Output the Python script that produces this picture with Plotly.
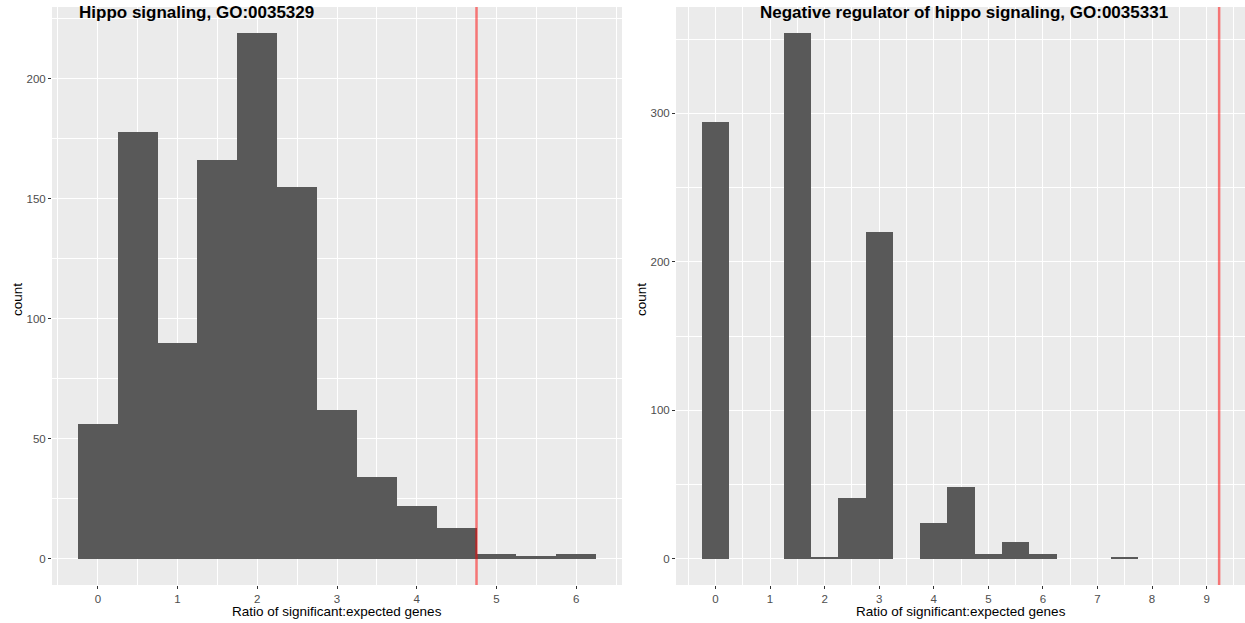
import plotly.graph_objects as go

W, H = 1245, 623

# Left histogram: Hippo signaling, GO:0035329
left_bins = [0.0, 0.5, 1.0, 1.5, 2.0, 2.5, 3.0, 3.5, 4.0, 4.5, 5.0, 5.5, 6.0]
left_counts = [56, 178, 90, 166, 219, 155, 62, 34, 22, 13, 2, 1, 2]
left_vline = 4.75
left_title = "Hippo signaling, GO:0035329"

# Right histogram: Negative regulator of hippo signaling, GO:0035331
right_bins = [0.0, 0.5, 1.0, 1.5, 2.0, 2.5, 3.0, 3.5, 4.0, 4.5, 5.0, 5.5, 6.0, 6.5, 7.0, 7.5]
right_counts = [294, 0, 0, 354, 1, 41, 220, 0, 24, 48, 3, 11, 3, 0, 0, 1]
right_vline = 9.23
right_title = "Negative regulator of hippo signaling, GO:0035331"

x_label = "Ratio of significant:expected genes"
y_label = "count"
bin_width = 0.5

FONT = "Liberation Sans, Arial, sans-serif"
BAR = "#595959"
PANEL = "#EBEBEB"

def px_x(p):
    return p / W

def px_y(p):
    return 1 - p / H

fig = go.Figure()

fig.add_trace(go.Bar(x=left_bins, y=left_counts, width=bin_width,
                     marker=dict(color=BAR, line=dict(width=0)),
                     xaxis="x", yaxis="y", showlegend=False))
fig.add_trace(go.Bar(x=right_bins, y=right_counts, width=bin_width,
                     marker=dict(color=BAR, line=dict(width=0)),
                     xaxis="x2", yaxis="y2", showlegend=False))

def span(lo, hi, extra=()):
    vals = [lo, hi] + list(extra)
    a, b = min(vals), max(vals)
    e = (b - a) * 0.05
    return [a - e, b + e]

lx = span(min(left_bins) - bin_width / 2, max(left_bins) + bin_width / 2, [left_vline])
ly = span(0, max(left_counts))
rx = span(min(right_bins) - bin_width / 2, max(right_bins) + bin_width / 2, [right_vline])
ry = span(0, max(right_counts))

ydom = [px_y(585), px_y(7)]
tickfont = dict(family=FONT, size=11.5, color="#4D4D4D")

common = dict(showgrid=True, gridcolor="white", gridwidth=1.1, zeroline=False,
              ticks="outside", ticklen=3, tickwidth=1, tickcolor="#333333",
              tickfont=tickfont, showline=False, fixedrange=True)

fig.update_layout(
    width=W, height=H,
    margin=dict(l=0, r=0, t=0, b=0),
    paper_bgcolor="white",
    plot_bgcolor=PANEL,
    bargap=0,
    font=dict(family=FONT),
    xaxis=dict(domain=[px_x(52), px_x(622)], range=lx, anchor="y",
               tickmode="array", tickvals=[0, 1, 2, 3, 4, 5, 6],
               minor=dict(showgrid=True, gridcolor="white", gridwidth=0.5, dtick=0.5, tick0=0.5),
               **common),
    yaxis=dict(domain=ydom, range=ly, anchor="x",
               tickmode="array", tickvals=[0, 50, 100, 150, 200],
               minor=dict(showgrid=True, gridcolor="white", gridwidth=0.5, dtick=25, tick0=25),
               **common),
    xaxis2=dict(domain=[px_x(676), 1.0], range=rx, anchor="y2",
                tickmode="array", tickvals=list(range(10)),
                minor=dict(showgrid=True, gridcolor="white", gridwidth=0.5, dtick=0.5, tick0=0.5),
                **common),
    yaxis2=dict(domain=ydom, range=ry, anchor="x2",
                tickmode="array", tickvals=[0, 100, 200, 300],
                minor=dict(showgrid=True, gridcolor="white", gridwidth=0.5, dtick=50, tick0=50),
                **common),
)

fig.add_shape(type="line", xref="x", yref="paper", x0=left_vline, x1=left_vline,
              y0=ydom[0], y1=ydom[1], line=dict(color="rgba(255,0,0,0.5)", width=2.5))
fig.add_shape(type="line", xref="x2", yref="paper", x0=right_vline, x1=right_vline,
              y0=ydom[0], y1=ydom[1], line=dict(color="rgba(255,0,0,0.5)", width=2.5))

title_font = dict(family=FONT, size=17, color="black")
label_font = dict(family=FONT, size=13.5, color="black")

fig.add_annotation(text=f"<b>{left_title}</b>", xref="paper", yref="paper",
                   x=px_x(77), y=px_y(13), xanchor="left", yanchor="middle",
                   showarrow=False, font=title_font)
fig.add_annotation(text=f"<b>{right_title}</b>", xref="paper", yref="paper",
                   x=px_x(964), y=px_y(13), xanchor="center", yanchor="middle",
                   showarrow=False, font=title_font)

for cx in (337, 960.5):
    fig.add_annotation(text=x_label, xref="paper", yref="paper",
                       x=px_x(cx), y=px_y(611), xanchor="center", yanchor="middle",
                       showarrow=False, font=label_font)
for cx in (17, 641):
    fig.add_annotation(text=y_label, xref="paper", yref="paper",
                       x=px_x(cx), y=px_y(300), xanchor="center", yanchor="middle",
                       textangle=-90, showarrow=False, font=label_font)

fig.write_html("out.html")
